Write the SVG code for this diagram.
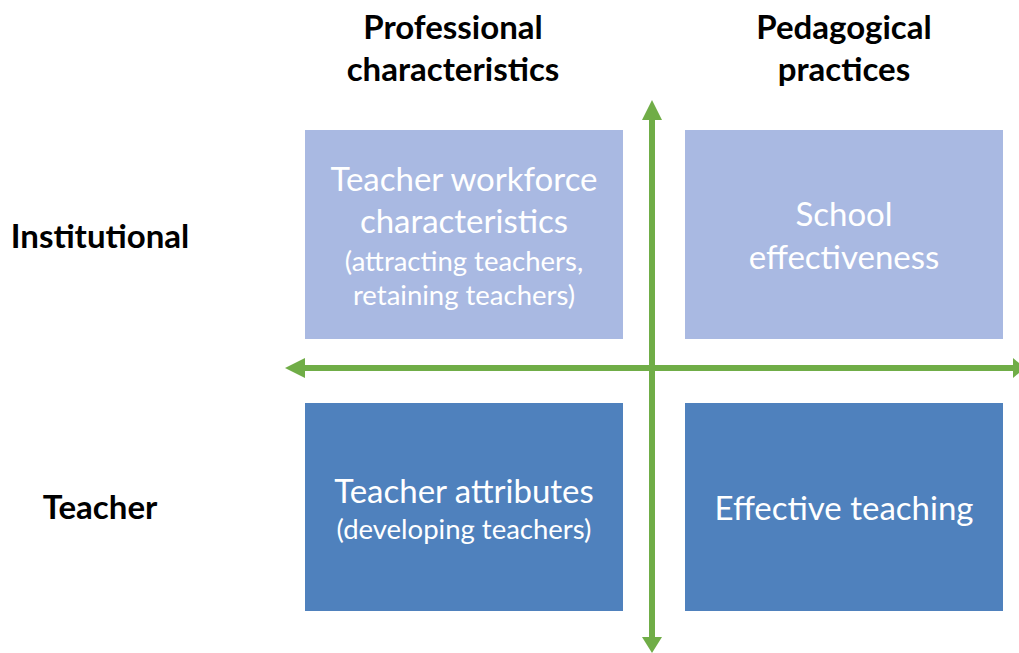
<svg xmlns="http://www.w3.org/2000/svg" width="1019" height="653" viewBox="0 0 1019 653">
<style>
.hdr{font-family:Lato,"Open Sans","Liberation Sans",sans-serif;font-weight:bold;font-size:33px;fill:#000;text-anchor:middle}
.big{font-family:Lato,"Open Sans","Liberation Sans",sans-serif;font-size:33px;fill:#fff;text-anchor:middle}
.sm{font-family:Lato,"Open Sans","Liberation Sans",sans-serif;font-size:27.5px;fill:#fff;text-anchor:middle}
.light{fill:#A9B9E2}
.dark{fill:#4F81BD}
.ax{fill:#70AD47}
</style>
<rect width="1019" height="653" fill="#fff"/>
<g id="header-professional"><text class="hdr" x="453" y="39">Professional</text><text class="hdr" x="453" y="81">characteristics</text></g>
<g id="header-pedagogical"><text class="hdr" x="844" y="39">Pedagogical</text><text class="hdr" x="844" y="81">practices</text></g>
<g id="label-institutional"><text class="hdr" x="100" y="248">Institutional</text></g>
<g id="label-teacher"><text class="hdr" x="100" y="519">Teacher</text></g>
<g id="node-workforce"><rect class="light" x="305" y="130" width="318" height="209"/>
<text class="big" x="464" y="191">Teacher workforce</text><text class="big" x="464" y="233">characteristics</text>
<text class="sm" x="464" y="271">(attracting teachers,</text><text class="sm" x="464" y="305">retaining teachers)</text></g>
<g id="node-school"><rect class="light" x="685" y="130" width="318" height="209"/>
<text class="big" x="844" y="226">School</text><text class="big" x="844" y="269">effectiveness</text></g>
<g id="node-attributes"><rect class="dark" x="305" y="403" width="318" height="208"/>
<text class="big" x="464" y="503">Teacher attributes</text><text class="sm" x="464" y="539">(developing teachers)</text></g>
<g id="node-teaching"><rect class="dark" x="685" y="403" width="318" height="208"/>
<text class="big" x="844" y="520">Effective teaching</text></g>
<g id="connectors">
<rect class="ax" x="649" y="118" width="6" height="522"/>
<polygon class="ax" points="652,100 662,120 642,120"/>
<polygon class="ax" points="652,653 662,637 642,637"/>
<rect class="ax" x="303" y="365" width="712" height="6"/>
<polygon class="ax" points="285,368 305,358 305,378"/>
<polygon class="ax" points="1025,368 1013,358 1013,378"/>
</g>
</svg>
